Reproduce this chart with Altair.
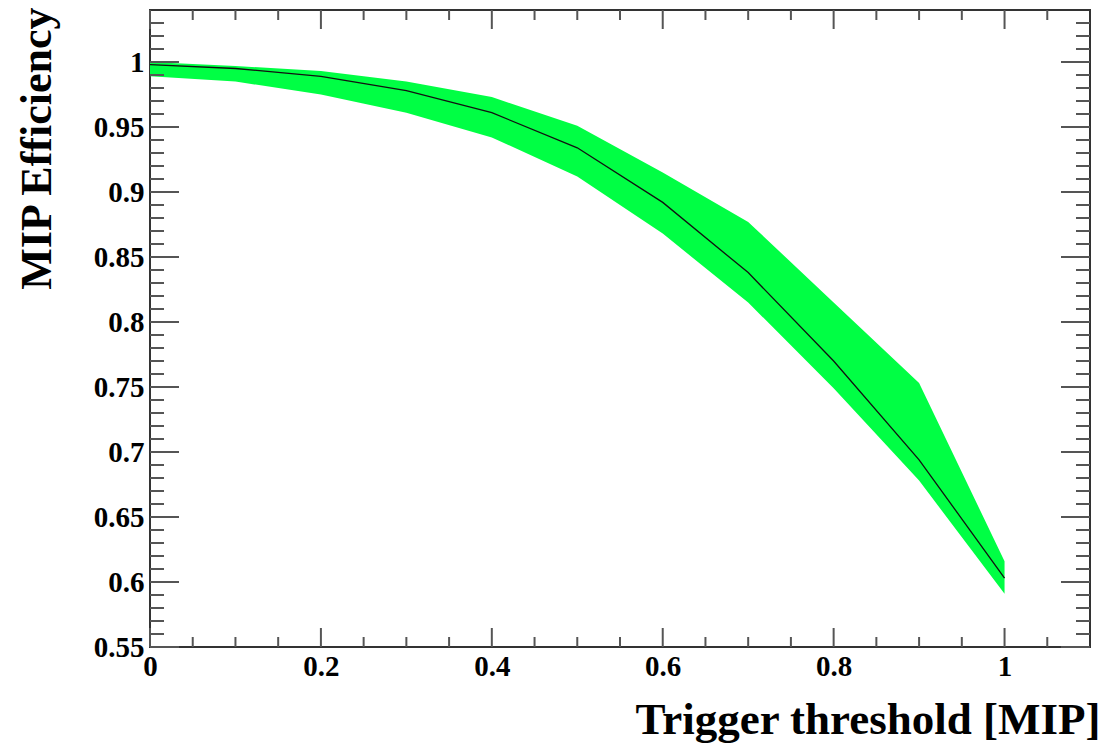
import altair as alt
import pandas as pd

# Data
threshold = [0.0, 0.1, 0.2, 0.3, 0.4, 0.5, 0.6, 0.7, 0.8, 0.9, 1.0]
efficiency = [0.998, 0.995, 0.989, 0.978, 0.961, 0.934, 0.892, 0.838, 0.770, 0.694, 0.603]
band_low = [0.989, 0.985, 0.975, 0.961, 0.942, 0.912, 0.868, 0.815, 0.749, 0.678, 0.591]
band_high = [1.000, 0.997, 0.993, 0.985, 0.973, 0.951, 0.915, 0.877, 0.815, 0.753, 0.616]

x_major = [0.0, 0.2, 0.4, 0.6, 0.8, 1.0]
x_minor = [0.05, 0.1, 0.15, 0.25, 0.3, 0.35, 0.45, 0.5, 0.55, 0.65, 0.7, 0.75,
           0.85, 0.9, 0.95, 1.05]
y_major = [0.55, 0.6, 0.65, 0.7, 0.75, 0.8, 0.85, 0.9, 0.95, 1.0]
y_minor = [round(0.55 + 0.01 * i, 2) for i in range(1, 49) if i % 5 != 0]

df = pd.DataFrame({"thr": threshold, "eff": efficiency, "lo": band_low, "hi": band_high})
dxM = pd.DataFrame({"v": x_major})
dxm = pd.DataFrame({"v": x_minor})
dyM = pd.DataFrame({"v": y_major})
dym = pd.DataFrame({"v": y_minor})

W, H = 940, 637
FONT = "Liberation Serif"
xscale = alt.Scale(domain=[0, 1.1], nice=False, zero=False)
yscale = alt.Scale(domain=[0.55, 1.04], nice=False, zero=False)

x_axis = alt.Axis(
    values=x_major, format="~g", title="Trigger threshold [MIP]",
    labelFont=FONT, labelFontWeight="bold", labelFontSize=29, labelColor="black",
    labelPadding=5, labelFlush=False, ticks=False, domain=False, grid=False,
    titleFont=FONT, titleFontWeight="bold", titleFontSize=45, titleColor="black",
    titleAnchor="end", titleAlign="right", titleX=950, titleY=86, titleBaseline="alphabetic",
)
y_axis = alt.Axis(
    values=y_major, format="~g", title="MIP Efficiency",
    labelFont=FONT, labelFontWeight="bold", labelFontSize=29, labelColor="black",
    labelPadding=6, labelFlush=False, ticks=False, domain=False, grid=False,
    titleFont=FONT, titleFontWeight="bold", titleFontSize=44, titleColor="black",
    titleAngle=-90, titleAlign="right", titleBaseline="top", titleX=-135, titleY=-3,
)

X = lambda f: alt.X(f, scale=xscale, axis=x_axis)
Y = lambda f: alt.Y(f, scale=yscale, axis=y_axis)

band = alt.Chart(df).mark_area(color="#00FF44", opacity=1).encode(
    x=X("thr:Q"), y=Y("lo:Q"), y2="hi:Q",
)
line = alt.Chart(df).mark_line(color="#111111", strokeWidth=1.3).encode(
    x=X("thr:Q"), y=Y("eff:Q"),
)

tick_color = "#555555"

def xticks(d, length):
    b = alt.Chart(d).mark_rule(color=tick_color, strokeWidth=2).encode(
        x=X("v:Q"), y=alt.value(H), y2=alt.value(H - length))
    t = alt.Chart(d).mark_rule(color=tick_color, strokeWidth=2).encode(
        x=X("v:Q"), y=alt.value(0), y2=alt.value(length))
    return [b, t]

def yticks(d, length):
    l = alt.Chart(d).mark_rule(color=tick_color, strokeWidth=2).encode(
        y=Y("v:Q"), x=alt.value(0), x2=alt.value(length))
    r = alt.Chart(d).mark_rule(color=tick_color, strokeWidth=2).encode(
        y=Y("v:Q"), x=alt.value(W), x2=alt.value(W - length))
    return [l, r]

layers = [band, line] + xticks(dxM, 19) + xticks(dxm, 10) + yticks(dyM, 29) + yticks(dym, 14)

chart = alt.layer(*layers).properties(
    width=W, height=H,
    autosize=alt.AutoSizeParams(type="none"),
    padding={"left": 150, "top": 10, "right": 27, "bottom": 99},
    background="white",
).configure_view(stroke="#333333", strokeWidth=2)

chart.save("out.html", embed_options={"renderer": "svg", "actions": False})
